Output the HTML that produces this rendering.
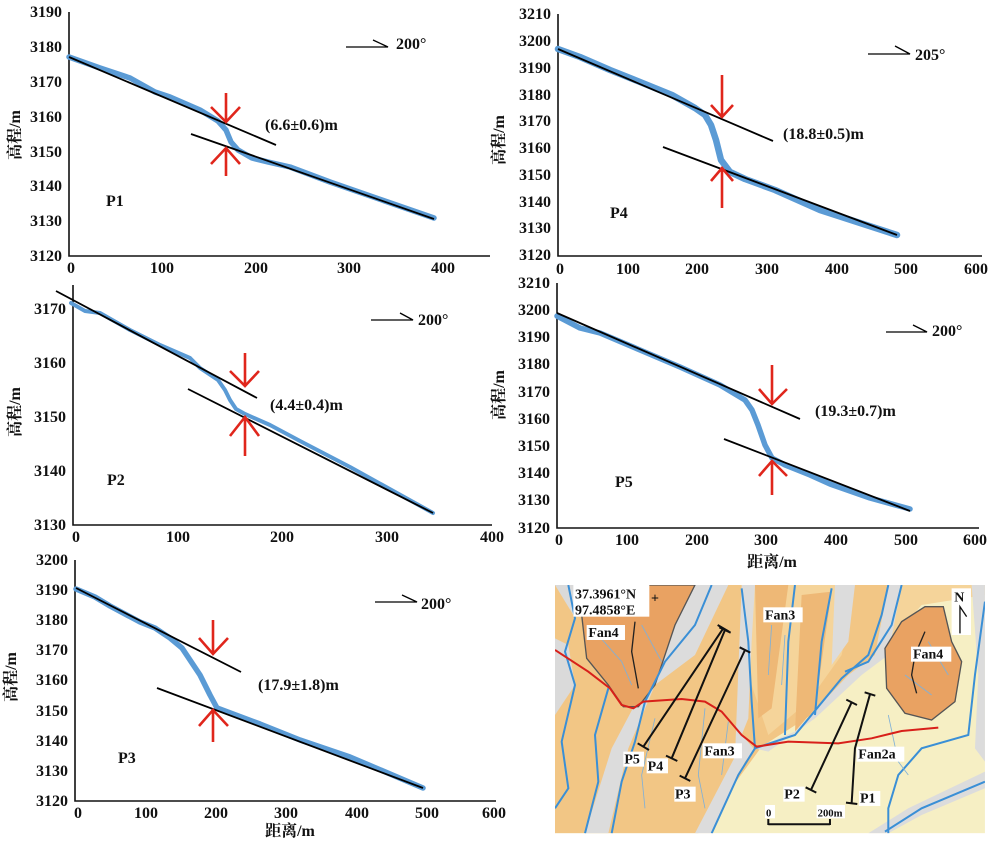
<!DOCTYPE html>
<html><head><meta charset="utf-8"><style>
html,body{margin:0;padding:0;background:#fff}
svg{display:block}
text{font-family:"Liberation Serif","Noto Serif CJK SC",serif;font-weight:bold;fill:#111}
.t{font-size:16px}
.ax{stroke:#111;stroke-width:1.6;fill:none}
.bl{stroke:#5b9bd5;stroke-width:5.5;fill:none;stroke-linejoin:round;stroke-linecap:round}
.bk{stroke:#000;stroke-width:1.8;fill:none}
.rd{stroke:#e0261c;stroke-width:2.6;fill:none}
.m text{font-size:42px}
</style></head><body>
<svg width="1000" height="844" viewBox="0 0 1000 844" xmlns="http://www.w3.org/2000/svg">
<!-- P1 -->
<path class="ax" d="M69,12V256H490"/>
<g class="t" text-anchor="end">
<text x="62" y="17">3190</text><text x="62" y="52">3180</text><text x="62" y="87">3170</text><text x="62" y="122">3160</text><text x="62" y="157">3150</text><text x="62" y="191">3140</text><text x="62" y="226">3130</text><text x="62" y="261">3120</text></g>
<g class="t" text-anchor="middle"><text x="71" y="273">0</text><text x="162" y="273">100</text><text x="256" y="273">200</text><text x="349" y="273">300</text><text x="443" y="273">400</text></g>
<text class="t" transform="translate(20,135) rotate(-90)" text-anchor="middle">高程/m</text>
<path class="bl" d="M69,57L100,68L130,78L155,92L170,97L200,110L218,121L226,130L231,142L238,150L252,158L268,162L290,167L330,182L434,218"/>
<path class="bk" d="M69,57L276,145M191,134L434,219"/>
<path class="rd" d="M226,93V122M211,107L226,122L240,107M226,148V176M211,164L226,148L240,164"/>
<text class="t" x="265" y="130">(6.6±0.6)m</text>
<path class="bk" style="stroke-width:1.3" d="M346,47H388L373,40"/><text class="t" x="396" y="49">200°</text>
<text class="t" x="106" y="206">P1</text>
<!-- P2 -->
<path class="ax" d="M73,285V525H492"/>
<g class="t" text-anchor="end"><text x="66" y="314">3170</text><text x="66" y="368">3160</text><text x="66" y="422">3150</text><text x="66" y="476">3140</text><text x="66" y="530">3130</text></g>
<g class="t" text-anchor="middle"><text x="76" y="542">0</text><text x="178" y="542">100</text><text x="282" y="542">200</text><text x="387" y="542">300</text><text x="492" y="542">400</text></g>
<text class="t" transform="translate(20,412) rotate(-90)" text-anchor="middle">高程/m</text>
<path class="bl" style="stroke-width:4" d="M71,303L85,311L100,313L130,330L160,345L190,358L200,368L218,380L225,390L230,400L236,409L245,414L270,425L300,441L350,467L433,513"/>
<path class="bk" d="M56,291L257,398M188,389L433,513"/>
<path class="rd" d="M245,353V386M230,371L245,386L259,371M245,417V456M230,436L245,417L259,436"/>
<text class="t" x="270" y="410">(4.4±0.4)m</text>
<path class="bk" style="stroke-width:1.3" d="M371,320H413L400,313"/><text class="t" x="418" y="325">200°</text>
<text class="t" x="107" y="485">P2</text>
<!-- P3 -->
<path class="ax" d="M75,560V801H496"/>
<g class="t" text-anchor="end"><text x="68" y="565">3200</text><text x="68" y="595">3190</text><text x="68" y="625">3180</text><text x="68" y="655">3170</text><text x="68" y="685">3160</text><text x="68" y="716">3150</text><text x="68" y="746">3140</text><text x="68" y="776">3130</text><text x="68" y="806">3120</text></g>
<g class="t" text-anchor="middle"><text x="78" y="818">0</text><text x="146" y="818">100</text><text x="216" y="818">200</text><text x="286" y="818">300</text><text x="357" y="818">400</text><text x="427" y="818">500</text><text x="494" y="818">600</text></g>
<text class="t" transform="translate(16,677) rotate(-90)" text-anchor="middle">高程/m</text>
<text class="t" x="290" y="836" text-anchor="middle">距离/m</text>
<path class="bl" d="M76,589L95,597L110,606L140,622L155,628L170,638L182,648L190,660L200,675L210,695L217,708L225,711L260,724L300,740L350,757L423,788"/>
<path class="bk" d="M76,588L241,672M157,688L423,788"/>
<path class="rd" d="M213,620V654M199,638L213,654L228,638M213,710V742M199,726L213,710L228,726"/>
<text class="t" x="258" y="690">(17.9±1.8)m</text>
<path class="bk" style="stroke-width:1.3" d="M375,602H417L402,595"/><text class="t" x="421" y="609">200°</text>
<text class="t" x="118" y="763">P3</text>
<!-- P4 -->
<path class="ax" d="M558,14V256H982"/>
<g class="t" text-anchor="end"><text x="551" y="19">3210</text><text x="551" y="46">3200</text><text x="551" y="73">3190</text><text x="551" y="100">3180</text><text x="551" y="126">3170</text><text x="551" y="153">3160</text><text x="551" y="180">3150</text><text x="551" y="207">3140</text><text x="551" y="233">3130</text><text x="551" y="260">3120</text></g>
<g class="t" text-anchor="middle"><text x="560" y="274">0</text><text x="628" y="274">100</text><text x="697" y="274">200</text><text x="767" y="274">300</text><text x="837" y="274">400</text><text x="906" y="274">500</text><text x="976" y="274">600</text></g>
<text class="t" transform="translate(504,140) rotate(-90)" text-anchor="middle">高程/m</text>
<path class="bl" style="stroke-width:6.5" d="M558,49L580,57L610,70L640,82L672,95L695,108L705,115L711,125L716,140L721,160L730,172L745,179L775,190L820,210L897,235"/>
<path class="bk" d="M558,49L773,141M663,147L897,235"/>
<path class="rd" d="M722,75V117M711,105L722,117L733,105M722,168V208M711,181L722,168L733,181"/>
<text class="t" x="783" y="139">(18.8±0.5)m</text>
<path class="bk" style="stroke-width:1.3" d="M868,54H910L895,46"/><text class="t" x="915" y="60">205°</text>
<text class="t" x="610" y="218">P4</text>
<!-- P5 -->
<path class="ax" d="M557,283V528H979"/>
<g class="t" text-anchor="end"><text x="550" y="288">3210</text><text x="550" y="315">3200</text><text x="550" y="342">3190</text><text x="550" y="369">3180</text><text x="550" y="397">3170</text><text x="550" y="424">3160</text><text x="550" y="451">3150</text><text x="550" y="478">3140</text><text x="550" y="505">3130</text><text x="550" y="533">3120</text></g>
<g class="t" text-anchor="middle"><text x="559" y="545">0</text><text x="627" y="545">100</text><text x="697" y="545">200</text><text x="766" y="545">300</text><text x="836" y="545">400</text><text x="906" y="545">500</text><text x="975" y="545">600</text></g>
<text class="t" transform="translate(504,395) rotate(-90)" text-anchor="middle">高程/m</text>
<text class="t" x="772" y="567" text-anchor="middle">距离/m</text>
<path class="bl" d="M557,316L580,328L600,333L640,350L680,367L720,385L745,400L752,410L758,425L765,445L772,458L785,465L810,475L830,484L870,498L910,509"/>
<path class="bk" d="M557,313L800,419M724,439L910,511"/>
<path class="rd" d="M772,365V404M759,389L772,404L787,389M772,461V495M759,476L772,461L787,476"/>
<text class="t" x="815" y="416">(19.3±0.7)m</text>
<path class="bk" style="stroke-width:1.3" d="M886,332H927L913,325"/><text class="t" x="932" y="336">200°</text>
<text class="t" x="615" y="487">P5</text>
<!-- MAP -->
<g class="m" transform="translate(555,575) scale(0.3333)">
<clipPath id="cp"><rect x="0" y="30" width="1290" height="745"/></clipPath>
<g clip-path="url(#cp)">
<rect x="0" y="30" width="1290" height="745" fill="#f6efc4"/>
<path fill="#f2c685" d="M0,30H1010L960,240L800,400L620,515L430,775H0Z"/>
<path fill="#f5d49a" d="M560,30H900L860,240L760,380L640,480L580,300Z"/>
<path fill="#f5d49a" d="M1000,30H1290V60L1100,90L980,230Z"/>
<path fill="#eeb876" d="M600,30H700L650,400L610,430Z"/>
<path fill="#eeb876" d="M740,60L830,50L780,400L720,470Z"/>
<path fill="#dadada" d="M0,190L40,210L60,330L0,420Z"/>
<path fill="#dadada" d="M0,30H70L55,120Z"/>
<path fill="#dcdcdc" d="M400,30H520L420,240L300,330L220,520L160,775H90L170,520L260,350Z"/>
<path fill="#dcdcdc" d="M560,30H600L590,200L580,430L560,480L600,525L570,560L470,775H420L540,545Z"/>
<path fill="#dcdcdc" d="M600,520L720,470L880,300L960,240L1000,30H1040L1000,240L920,300L780,430L640,530Z"/>
<path fill="#dcdcdc" d="M840,30H900L880,200L830,270Z"/>
<path fill="#dcdcdc" d="M1290,590V640L1100,720L1000,775H940L1060,700Z"/>
<path fill="#dcdcdc" d="M1250,30H1290V560L1260,520L1270,300Z"/>
<path fill="#e9a262" stroke="#555" stroke-width="4" d="M90,30H420L360,150L300,330L250,395L205,395L160,330L95,250L80,120Z"/>
<path fill="#e9a262" stroke="#555" stroke-width="4" d="M990,220L1040,140L1110,95L1165,95L1190,200L1220,260L1200,380L1130,435L1050,415L995,340Z"/>
<g stroke="#3a8fd6" stroke-width="6" fill="none">
<path d="M40,30L60,130L30,230L60,330L20,500L40,640L0,700"/>
<path d="M160,340L120,480L130,620L90,775"/>
<path d="M470,30L420,150L330,260L270,380L240,500L200,620L170,775"/>
<path d="M560,40L580,200L590,380L600,520L550,600L470,775"/>
<path d="M600,520L720,480L860,310L940,240L980,120L1000,30"/>
<path d="M1040,30L1010,150L940,260L870,290"/>
<path d="M1290,80L1260,300L1240,480L1100,520L1030,600L1000,700L1000,775"/>
<path d="M1290,620L1100,700L990,770"/>
<path d="M720,30L700,200L690,480"/>
<path d="M830,40L800,200L780,420"/>
</g>
<g stroke="#7fb0d8" stroke-width="2.5" fill="none">
<path d="M300,430L260,600L270,700"/><path d="M450,400L430,600L450,700"/><path d="M520,440L500,600"/><path d="M650,150L640,300"/><path d="M690,180L680,330"/><path d="M1000,420L1030,560L1060,600"/><path d="M120,170L200,260L230,330"/><path d="M260,150L320,260"/><path d="M1050,300L1130,360"/><path d="M1120,200L1180,300"/>
</g>
<path d="M240,140L230,230L250,340" stroke="#222" stroke-width="4" fill="none"/>
<path d="M1110,170L1080,240L1070,300L1085,355" stroke="#222" stroke-width="4" fill="none"/>
<path d="M0,225L100,290L165,340L200,390L235,400L265,380L380,372L450,380L500,410L560,480L605,515L700,500L850,505L950,490L1040,468L1150,458" stroke="#d8201a" stroke-width="6" fill="none"/>
<g stroke="#111" stroke-width="6" fill="none">
<path d="M265,515L505,160M248,505L282,525M488,150L522,170"/>
<path d="M350,550L510,165M333,542L367,558M493,157L527,173"/>
<path d="M390,610L570,225M374,602L406,618M554,217L586,233"/>
<path d="M768,645L890,382M752,637L784,653M874,374L906,390"/>
<path d="M890,685L900,520L945,358M873,683L907,687M929,352L961,362"/>
<path d="M640,748H825M640,732V750M825,732V750"/>
</g>
<g fill="#fff">
<rect x="55" y="30" width="228" height="95"/><rect x="95" y="150" width="115" height="45"/><rect x="625" y="97" width="118" height="45"/><rect x="1068" y="215" width="121" height="45"/><rect x="443" y="505" width="118" height="45"/><rect x="905" y="515" width="143" height="45"/><rect x="205" y="530" width="62" height="45"/><rect x="275" y="550" width="64" height="45"/><rect x="358" y="635" width="64" height="45"/><rect x="685" y="635" width="64" height="45"/><rect x="912" y="648" width="64" height="45"/><rect x="1190" y="40" width="58" height="140"/><rect x="630" y="690" width="30" height="40"/><rect x="785" y="690" width="85" height="40"/>
</g>
<text x="60" y="70">37.3961°N</text><text x="288" y="82">+</text><text x="60" y="118">97.4858°E</text>
<text x="100" y="186">Fan4</text><text x="630" y="134">Fan3</text><text x="1074" y="251">Fan4</text><text x="448" y="541">Fan3</text><text x="910" y="551">Fan2a</text>
<text x="208" y="566">P5</text><text x="278" y="586">P4</text><text x="360" y="670">P3</text><text x="688" y="670">P2</text><text x="915" y="683">P1</text>
<text x="633" y="725" style="font-size:32px">0</text><text x="788" y="725" style="font-size:32px">200m</text>
<text x="1198" y="80">N</text>
<path d="M1215,175V95L1235,125" stroke="#111" stroke-width="4" fill="none"/>
</g></g>
</svg>
</body></html>
